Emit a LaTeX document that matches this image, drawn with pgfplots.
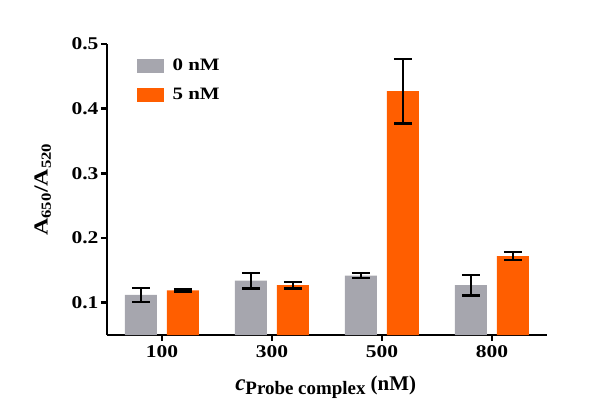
\documentclass[border=0pt]{standalone}
\usepackage{pgfplots}
\pgfplotsset{compat=1.18}
\usepackage{fontspec}
\setmainfont{Liberation Serif}
\newfontfamily\wide{Liberation Serif}[FakeStretch=1.2]
\definecolor{bargray}{RGB}{166,166,174}
\definecolor{barorange}{RGB}{255,94,0}
\pgfplotsset{myerr/.style={error bars/.cd, y dir=both, y explicit,
  error bar style={line width=2.4bp, black},
  error mark options={rotate=90, mark size=9bp, line width=2.4bp, black}}}
\begin{document}
\begin{tikzpicture}[font=\bfseries]
\useasboundingbox (-107bp,-78bp) rectangle (488bp,335bp);
\begin{axis}[
  at={(0,0)}, anchor=south west,
  scale only axis, width=440bp, height=291bp,
  xmin=-0.5, xmax=3.5, ymin=0.05, ymax=0.5,
  axis x line*=bottom, axis y line*=left,
  axis line style={line width=2.4bp, black},
  ybar=10bp, bar width=32bp,
  xtick={0,1,2,3}, xticklabels={100,300,500,800},
  ytick={0.1,0.2,0.3,0.4,0.5}, yticklabels={0.1,0.2,0.3,0.4,0.5},
  tick align=outside, major tick length=6bp,
  tick style={line width=2.4bp, black},
  ticklabel style={font=\wide\fontsize{18}{18}\selectfont\bfseries},
  xticklabel style={yshift=-1bp},
  yticklabel style={xshift=1bp},
  xlabel={{\fontsize{23}{23}\selectfont\textit{c}}\raisebox{-4bp}{\fontsize{19}{19}\selectfont Probe complex} (nM)},
  xlabel style={font=\fontsize{21}{21}\selectfont\bfseries, at={(axis description cs:0.497,-0.178)}, anchor=center},
  ylabel={A\textsubscript{650}/A\textsubscript{520}},
  ylabel style={font=\wide\fontsize{20}{20}\selectfont\bfseries, at={(axis description cs:-0.146,0.5)}, anchor=center},
  legend style={at={(axis description cs:0.06,0.962)}, anchor=north west, draw=none, fill=none,
    font=\wide\fontsize{17.5}{17.5}\selectfont\bfseries, row sep=12bp, column sep=7bp},
  legend image code/.code={\fill[#1] (0bp,-7bp) rectangle (27bp,7bp);},
  legend cell align=left,
]
\addplot[fill=bargray, draw=none, myerr] coordinates {
  (0,0.112) +- (0,0.011)
  (1,0.134) +- (0,0.012)
  (2,0.142) +- (0,0.004)
  (3,0.127) +- (0,0.016)
};
\addplot[fill=barorange, draw=none, myerr] coordinates {
  (0,0.119) +- (0,0.002)
  (1,0.127) +- (0,0.005)
  (2,0.427) +- (0,0.050)
  (3,0.172) +- (0,0.006)
};
\legend{0 nM, 5 nM}
\end{axis}
\end{tikzpicture}
\end{document}
